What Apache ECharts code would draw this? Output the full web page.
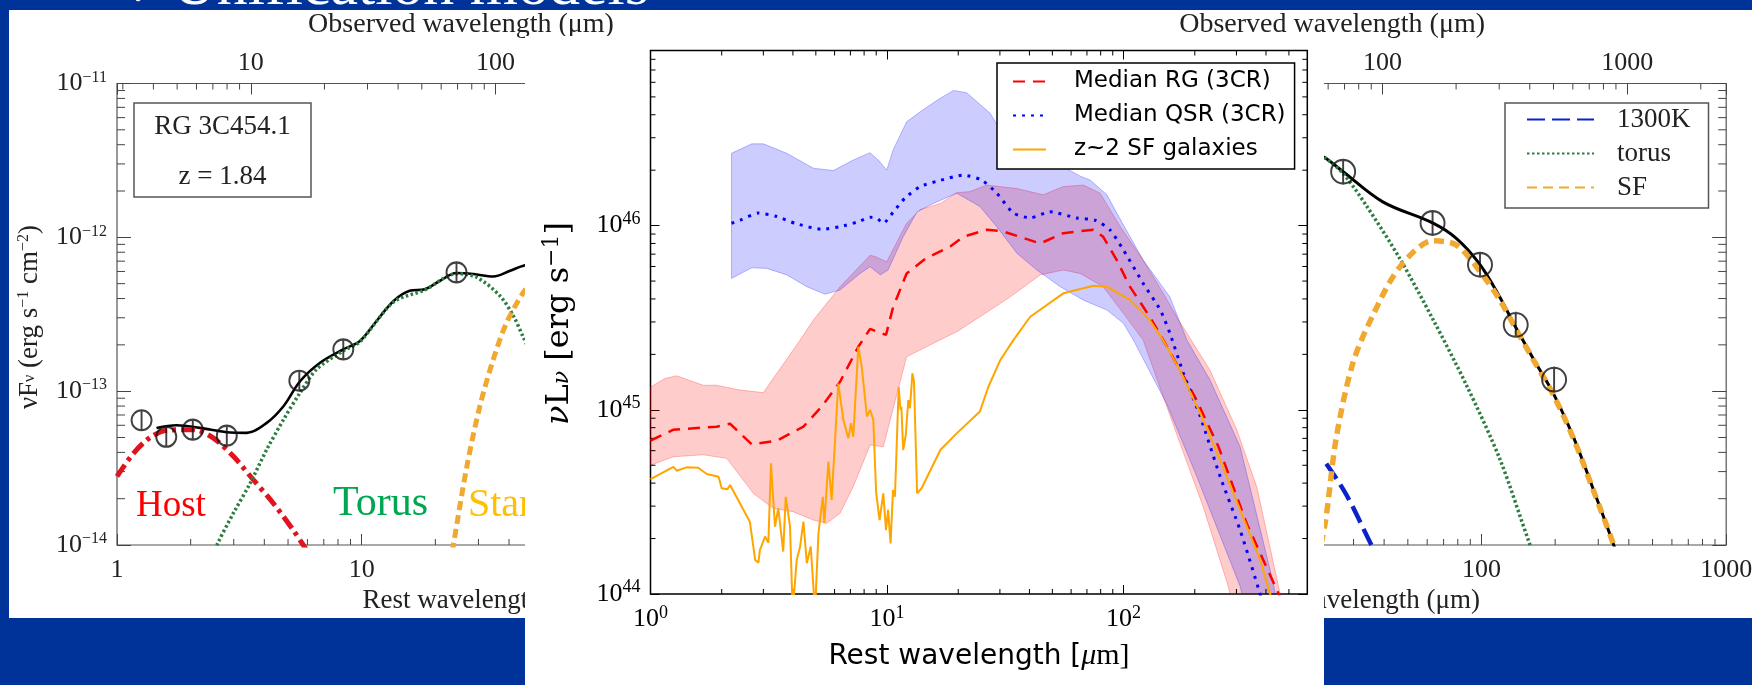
<!DOCTYPE html>
<html>
<head>
<meta charset="utf-8">
<script src="https://cdn.jsdelivr.net/npm/echarts@6.0.0/dist/echarts.min.js"></script>
<style>
  html, body { margin: 0; padding: 0; width: 1752px; height: 685px; overflow: hidden; background: #003399; }
  #title { position: absolute; left: 0; top: 0; width: 1752px; height: 10px; }
  #side { position: absolute; left: 9px; top: 10px; width: 1743px; height: 608px; }
  #main { position: absolute; left: 525px; top: 36px; width: 799px; height: 649px; }
</style>
</head>
<body>
<div id="title"></div>
<div id="side"></div>
<div id="main"></div>
<script>
// ---- middle panel: median SEDs (rest wavelength in micron, nuLnu in erg/s) ----
var rgLam  = [1.0, 1.25, 1.9, 2.17, 2.68, 3.42, 4.43, 5.29, 6.33, 7.56, 8.48, 9.9, 10.6, 12.1, 14.5, 16.2, 18.5, 21, 26.4, 31, 44.4, 55.6, 74.5, 82, 93.6, 106, 129, 147, 200, 252, 332, 490];
var rgMed  = [6.8e44, 7.8e44, 8.1e44, 8.4e44, 6.5e44, 6.8e44, 8.1e44, 1.04e45, 1.42e45, 2.2e45, 2.75e45, 2.55e45, 3.6e45, 5.5e45, 6.6e45, 7.1e45, 7.7e45, 8.7e45, 9.5e45, 9.3e45, 8.0e45, 9.1e45, 9.5e45, 8.7e45, 6.5e45, 4.7e45, 3.2e45, 2.4e45, 1.18e45, 6.3e44, 2.4e44, 8e43];
var rgUpLam = [1.0, 1.15, 1.29, 1.67, 1.9, 2.39, 3.0, 4.29, 4.88, 6.33, 8.48, 8.9, 9.97, 12.1, 13.8, 16.8, 19.7, 22.4, 26.4, 35.4, 45.8, 55.6, 67.6, 79.6, 96.7, 121, 147, 171, 232, 301, 366, 452, 520];
var rgUp    = [1.33e45, 1.48e45, 1.53e45, 1.36e45, 1.36e45, 1.28e45, 1.24e45, 2.39e45, 3.07e45, 4.66e45, 6.9e45, 6.8e45, 6.37e45, 1.03e46, 1.22e46, 1.32e46, 1.51e46, 1.53e46, 1.66e46, 1.59e46, 1.47e46, 1.63e46, 1.66e46, 1.5e46, 9.9e45, 6.5e45, 4.3e45, 3.07e45, 1.64e45, 7.8e44, 3.8e44, 1.1e44, 5e43];
var rgLoLam = [1.0, 1.25, 1.67, 2.1, 2.72, 3.3, 4.0, 4.88, 5.56, 6.33, 7.2, 8.48, 9.64, 12.1, 16.8, 20, 33, 44.4, 55.6, 65.5, 82, 99.8, 121, 150, 173, 217, 277, 330];
var rgLo    = [5.0e44, 5.56e44, 5.7e44, 5.45e44, 3.52e44, 2.92e44, 2.8e44, 2.52e44, 2.42e44, 2.74e44, 3.83e44, 6.44e44, 6.3e44, 1.94e45, 2.4e45, 2.68e45, 4.08e45, 5.4e45, 5.74e45, 5.5e45, 4.66e45, 3.34e45, 2.39e45, 1.1e45, 6.6e44, 2.98e44, 1.1e44, 4e43];

var qsrLam = [2.2, 2.39, 2.86, 3.42, 4.08, 5.29, 6.33, 7.56, 8.48, 9.04, 9.64, 10.6, 11.9, 13.8, 16.5, 21, 25.1, 29.1, 34.2, 40.3, 48.9, 63.4, 75.8, 87.7, 99.8, 121, 143, 157, 179, 211, 256, 311, 375, 420];
var qsrMed = [1.03e46, 1.07e46, 1.17e46, 1.12e46, 1.03e46, 9.55e45, 9.87e45, 1.05e46, 1.11e46, 1.1e46, 1.03e46, 1.18e46, 1.41e46, 1.63e46, 1.75e46, 1.88e46, 1.77e46, 1.5e46, 1.17e46, 1.1e46, 1.19e46, 1.1e46, 1.07e46, 9.47e45, 7.38e45, 4.86e45, 3.48e45, 2.6e45, 1.58e45, 9.2e44, 4.34e44, 2.22e44, 1.03e44, 6e43];
var qsrUpLam = [2.2, 2.68, 3.0, 3.77, 4.88, 5.93, 7.2, 8.48, 9.18, 9.97, 10.6, 12.1, 13.8, 16.5, 19.1, 21.7, 27.3, 30.1, 40, 55, 66, 72.2, 85, 93.6, 121, 157, 185, 232, 311, 430, 480];
var qsrUp    = [2.47e46, 2.78e46, 2.78e46, 2.47e46, 2.05e46, 1.99e46, 2.27e46, 2.49e46, 2.27e46, 2.0e46, 2.57e46, 3.66e46, 4.15e46, 4.85e46, 5.42e46, 5.27e46, 4.07e46, 3.31e46, 2.6e46, 2.1e46, 1.85e46, 1.77e46, 1.47e46, 1.17e46, 6.5e45, 4.1e45, 2.4e45, 1.45e45, 6.3e44, 1.14e44, 5e43];
var qsrLoLam = [2.2, 2.68, 3.1, 3.77, 4.58, 5.47, 6.33, 7.69, 8.48, 9.37, 10.1, 11.7, 13.4, 15.7, 19.7, 24.7, 29.1, 35.4, 43, 54, 67.6, 85, 99.8, 110, 152, 204, 311, 360];
var qsrLo    = [5.17e45, 5.9e45, 5.86e45, 5.4e45, 4.66e45, 4.24e45, 4.47e45, 5.5e45, 5.98e45, 5.4e45, 5.74e45, 8.7e45, 1.19e46, 1.32e46, 1.5e46, 1.27e46, 9.87e45, 7.08e45, 5.74e45, 4.66e45, 3.94e45, 3.48e45, 2.95e45, 2.39e45, 1.08e45, 4.34e44, 1.1e44, 5e43];

var sfLam = [1.0, 1.25, 1.29, 1.42, 1.59, 1.73, 1.94, 2.0, 2.11, 2.17, 2.63, 2.77, 2.86, 2.9, 3.05, 3.15, 3.23, 3.36, 3.47, 3.64, 3.73, 3.89, 3.99, 4.15, 4.29, 4.43, 4.58, 4.76, 4.96, 5.13, 5.35, 5.43, 5.65, 5.83, 6.22, 6.54, 6.86, 7.04, 7.2, 7.56, 7.82, 8.22, 8.48, 8.75, 8.88, 9.0, 9.3, 9.64, 9.9, 10.1, 10.35, 10.6, 10.8, 11.2, 11.4, 11.5, 11.7, 12.0, 12.3, 12.5, 12.8, 13.0, 13.4, 14.0, 16.8, 19.7, 24.7, 26.8, 30.1, 34.2, 40.3, 55.6, 74.5, 85, 106.5, 129, 147, 173, 211, 256, 311, 378, 414, 440];
var sfLum = [4.2e44, 4.9e44, 4.67e44, 4.87e44, 4.85e44, 4.48e44, 4.33e44, 3.75e44, 3.7e44, 3.91e44, 2.47e44, 1.53e44, 1.48e44, 1.73e44, 2.05e44, 1.9e44, 5.13e44, 2.32e44, 2.92e44, 1.7e44, 3.37e44, 2.32e44, 8e43, 1.53e44, 1.81e44, 2.47e44, 1.47e44, 1.81e44, 8e43, 2.14e44, 3.37e44, 2.42e44, 5.23e44, 3.24e44, 1.39e45, 8.8e44, 7.0e44, 8.45e44, 7.14e44, 2.2e45, 1.71e45, 9.2e44, 1.0e45, 8.8e44, 5.34e44, 3.52e44, 2.52e44, 3.52e44, 2.22e44, 2.86e44, 1.88e44, 3.67e44, 3.37e44, 1.33e45, 1.0e45, 1.04e45, 6.05e44, 7.3e44, 1.13e45, 1.02e45, 1.58e45, 1.42e45, 3.52e44, 3.75e44, 6.05e44, 7.45e44, 9.8e44, 1.33e45, 1.86e45, 2.39e45, 3.2e45, 4.29e45, 4.72e45, 4.66e45, 3.95e45, 3.07e45, 2.39e45, 1.64e45, 9.58e44, 5.34e44, 2.86e44, 1.53e44, 1.03e44, 8e43];

// ---- left panel: RG 3C454.1 (rest micron, nuFnu erg/s/cm2) ----
var lObsLam  = [1.26, 1.59, 2.04, 2.81, 5.56, 8.41, 24.4];
var lObsFlux = [6.47e-14, 5.05e-14, 5.62e-14, 5.14e-14, 1.17e-13, 1.87e-13, 5.92e-13];
var lModelLam  = [1.45, 1.75, 2.18, 2.81, 3.39, 4.09, 4.79, 5.6, 6.76, 8.41, 9.84, 11.5, 13.5, 15.7, 18.1, 20.9, 24.4, 28.6, 34.5, 40.4, 45.8, 60];
var lModelFlux = [5.77e-14, 6.0e-14, 5.77e-14, 5.41e-14, 5.36e-14, 6.22e-14, 7.98e-14, 1.16e-13, 1.53e-13, 1.87e-13, 2.12e-13, 2.86e-13, 3.86e-13, 4.49e-13, 4.6e-13, 5.22e-13, 5.86e-13, 5.77e-13, 5.57e-13, 6.07e-13, 6.53e-13, 7.2e-13];
var lHostLam  = [1.0, 1.17, 1.36, 1.6, 2.05, 2.47, 2.99, 3.61, 4.35, 5.25, 5.77, 6.5];
var lHostFlux = [2.79e-14, 3.96e-14, 4.97e-14, 5.57e-14, 5.62e-14, 4.97e-14, 3.77e-14, 2.65e-14, 1.87e-14, 1.25e-14, 1.0e-14, 7.5e-15];
var lTorusLam  = [2.4, 2.56, 2.99, 3.5, 4.09, 4.79, 5.6, 6.55, 8.41, 9.84, 13.5, 18.1, 24.4, 29.5, 36.7, 41.7, 45.8, 55];
var lTorusFlux = [7.5e-15, 1.0e-14, 1.61e-14, 2.52e-14, 4.17e-14, 6.53e-14, 9.77e-14, 1.39e-13, 1.83e-13, 2.1e-13, 3.8e-13, 4.55e-13, 5.8e-13, 5.5e-13, 4.17e-13, 3.08e-13, 2.23e-13, 1.2e-13];
var lSbLam  = [22.5, 23.7, 26.9, 30.4, 34.5, 39.1, 45.8, 55];
var lSbFlux = [6e-15, 1.0e-14, 3.24e-14, 7.98e-14, 1.61e-13, 2.79e-13, 4.39e-13, 6.5e-13];

// ---- right panel ----
var rObsLam  = [27.2, 63.1, 98.6, 138, 198];
var rObsFlux = [2.67e-12, 1.24e-12, 6.64e-13, 2.7e-13, 1.19e-13];
var rModelLam  = [20, 22.9, 27.2, 39.5, 63.1, 79.1, 98.6, 119, 138, 163, 197, 238, 287, 347, 400];
var rModelFlux = [3.6e-12, 3.29e-12, 2.67e-12, 1.7e-12, 1.24e-12, 9.8e-13, 6.64e-13, 4.06e-13, 2.6e-13, 1.62e-13, 9.6e-14, 4.99e-14, 2.28e-14, 1.0e-14, 5e-15];
var rSfLam  = [20, 22.9, 25.5, 29.8, 36, 46.3, 63.4, 79, 98.6, 119, 138, 163, 197, 238, 287, 347, 400];
var rSfFlux = [5e-15, 1.35e-14, 4.99e-14, 1.52e-13, 3.12e-13, 6.4e-13, 9.5e-13, 8.9e-13, 6.0e-13, 3.9e-13, 2.55e-13, 1.6e-13, 9.4e-14, 4.9e-14, 2.25e-14, 1.0e-14, 5e-15];
var rTorusLam  = [20, 22.9, 27.2, 33.9, 46.3, 63.4, 86.9, 119, 158, 180];
var rTorusFlux = [3.6e-12, 3.29e-12, 2.6e-12, 1.6e-12, 7.3e-13, 2.92e-13, 1.09e-13, 3.6e-14, 1.0e-14, 6e-15];
var r1300Lam  = [20, 22.9, 28, 35.5, 40];
var r1300Flux = [4.5e-14, 3.48e-14, 2.13e-14, 1.0e-14, 7e-15];

var MINOR = [2, 3, 4, 5, 6, 7, 8, 9];
var FLUX_UNIT = 1e-14;   // side panels plotted in units of 1e-14
var SERIF = 'Liberation Serif';
var SANS = 'DejaVu Sans';

function pts(xs, ys, unit) {
  return xs.map(function (x, i) { return [x, ys[i] / (unit || 1)]; });
}
function minorVals(decades, lo, hi) {
  var out = [];
  decades.forEach(function (d) {
    MINOR.forEach(function (m) { var v = m * d; if (v > lo * 1.0001 && v < hi * 0.9999) out.push(v); });
  });
  return out;
}
function powLabel(offset) {
  return function (v) {
    var e = Math.log10(v), n = Math.round(e);
    if (Math.abs(e - n) > 1e-6) return '';
    n += offset;
    return '10{s|' + (n < 0 ? '\u2212' + (-n) : n) + '}';
  };
}
function plainLabel(v) {
  var e = Math.log10(v), n = Math.round(e);
  if (Math.abs(e - n) > 1e-6) return '';
  return String(Math.round(v));
}
// dir: 0 bottom, 1 top, 2 left, 3 right
function tickSeries(xi, yi, items, lenX, lenY, color) {
  return {
    type: 'custom', xAxisIndex: xi, yAxisIndex: yi, silent: true, z: 3, clip: false,
    data: items,
    renderItem: function (params, api) {
      var p = api.coord([api.value(0), api.value(1)]);
      var d = api.value(2);
      var l = d < 2 ? lenX : lenY;
      var dx = [0, 0, 1, -1][d] * l, dy = [-1, 1, 0, 0][d] * l;
      return { type: 'line', shape: { x1: p[0], y1: p[1], x2: p[0] + dx, y2: p[1] + dy },
               style: { stroke: color, lineWidth: 1 } };
    }
  };
}
function logAxis(extra) {
  var a = { type: 'log', logBase: 10, splitLine: { show: false }, axisLine: { show: false } };
  for (var k in extra) a[k] = extra[k];
  return a;
}

// ================= title strip =================
var titleChart = echarts.init(document.getElementById('title'));
titleChart.setOption({
  animation: false,
  graphic: [
    { type: 'text', x: 128, y: -5, style: { text: '\u2713', fill: '#fff', fontSize: 40, fontFamily: SANS, align: 'left', verticalAlign: 'middle' } },
    { type: 'text', x: 172, y: -12, style: { text: 'Unification models', fill: '#fff', fontSize: 62, fontFamily: SERIF, align: 'left', verticalAlign: 'middle' } }
  ]
});

// ================= side panels =================
var sideChart = echarts.init(document.getElementById('side'));
var sideTick = { show: true, inside: true, length: 11, lineStyle: { color: '#444', width: 1 } };
var sideTickY = { show: true, inside: true, length: 14, lineStyle: { color: '#444', width: 1 } };
var sideLbl = { color: '#222', fontFamily: SERIF, fontSize: 26, formatter: plainLabel, showMinLabel: true, showMaxLabel: true };

var lTicks = [];
minorVals([1, 10], 1, 100).forEach(function (v) { lTicks.push([v, 1, 0]); });
minorVals([1, 10, 100], 1, 1000).forEach(function (v) { lTicks.push([1, v, 2]); });
var lTopTicks = minorVals([1, 10, 100], 2.84, 284).map(function (v) { return [v, 1000, 1]; });
var rTicks = [];
minorVals([10, 100], 10, 1000).forEach(function (v) { rTicks.push([v, 1, 0]); });
minorVals([1, 10, 100], 1, 1000).forEach(function (v) { rTicks.push([1000, v, 3]); });
var rTopTicks = minorVals([10, 100, 1000], 25.4, 2540).map(function (v) { return [v, 1000, 1]; });

var phi = 'path://M0,-11L0,11M10,0A10,10,0,1,1,-10,0A10,10,0,1,1,10,0';

sideChart.setOption({
  animation: false,
  backgroundColor: '#fff',
  grid: [
    { left: 108, top: 73.5, width: 489.4, height: 461.5, show: true, borderColor: '#555', borderWidth: 1.2, outerBoundsMode: 'none' },
    { left: 1227.8, top: 73.5, width: 489.4, height: 461.5, show: true, borderColor: '#555', borderWidth: 1.2, outerBoundsMode: 'none' }
  ],
  xAxis: [
    logAxis({ gridIndex: 0, position: 'bottom', min: 1, max: 100, axisTick: sideTick, axisLabel: Object.assign({ margin: 12 }, sideLbl) }),
    logAxis({ gridIndex: 0, position: 'top', min: 2.84, max: 284, axisTick: sideTick, axisLabel: Object.assign({ margin: 7 }, sideLbl) }),
    logAxis({ gridIndex: 1, position: 'bottom', min: 10, max: 1000, axisTick: sideTick, axisLabel: Object.assign({ margin: 12 }, sideLbl) }),
    logAxis({ gridIndex: 1, position: 'top', min: 25.4, max: 2540, axisTick: sideTick, axisLabel: Object.assign({ margin: 7 }, sideLbl) })
  ],
  yAxis: [
    logAxis({ gridIndex: 0, position: 'left', min: 1, max: 1000, axisTick: sideTickY,
      axisLabel: { color: '#222', fontFamily: SERIF, fontSize: 26, margin: 10, showMinLabel: true, showMaxLabel: true,
        formatter: powLabel(-14), rich: { s: { fontFamily: SERIF, fontSize: 16, color: '#222', padding: [0, 0, 12, 0] } } } }),
    logAxis({ gridIndex: 1, position: 'right', min: 1, max: 1000, axisTick: sideTickY, axisLabel: { show: false } })
  ],
  legend: {
    orient: 'vertical', left: 1496, top: 93, itemWidth: 67, itemHeight: 23, itemGap: 7,
    padding: [3, 18, 7, 21], borderColor: '#555', borderWidth: 1.5, backgroundColor: '#fff', borderRadius: 0,
    selectedMode: false,
    itemStyle: { opacity: 0, borderWidth: 0 },
    textStyle: { fontFamily: SERIF, fontSize: 27, color: '#222', padding: [0, 0, 0, 18] },
    data: ['1300K', 'torus', 'SF']
  },
  series: [
    { name: 'model', type: 'line', xAxisIndex: 0, yAxisIndex: 0, smooth: 0.35, symbol: 'none', data: pts(lModelLam, lModelFlux, FLUX_UNIT), lineStyle: { color: '#000', width: 2.6 } },
    { name: 'Host', type: 'line', xAxisIndex: 0, yAxisIndex: 0, smooth: 0.3, symbol: 'none', data: pts(lHostLam, lHostFlux, FLUX_UNIT), lineStyle: { color: '#e0141e', width: 5, type: [14, 5, 4, 5] } },
    { name: 'Torus', type: 'line', xAxisIndex: 0, yAxisIndex: 0, smooth: 0.3, symbol: 'none', data: pts(lTorusLam, lTorusFlux, FLUX_UNIT), lineStyle: { color: '#2e7d40', width: 3.5, type: [2.5, 2.5] } },
    { name: 'Starburst', type: 'line', xAxisIndex: 0, yAxisIndex: 0, smooth: 0.3, symbol: 'none', data: pts(lSbLam, lSbFlux, FLUX_UNIT), lineStyle: { color: '#f0a830', width: 5, type: [9, 5] } },
    { name: 'dataL', type: 'scatter', xAxisIndex: 0, yAxisIndex: 0, symbol: phi, symbolSize: [20, 22], data: pts(lObsLam, lObsFlux, FLUX_UNIT),
      itemStyle: { color: 'rgba(0,0,0,0)', borderColor: '#111', borderWidth: 2 }, z: 5 },
    tickSeries(0, 0, lTicks, 6, 8, '#444'),
    tickSeries(1, 0, lTopTicks, 6, 8, '#444'),

    { name: 'modelR', type: 'line', xAxisIndex: 2, yAxisIndex: 1, smooth: 0.35, symbol: 'none', data: pts(rModelLam, rModelFlux, FLUX_UNIT), lineStyle: { color: '#000', width: 3 } },
    { name: 'torus', type: 'line', xAxisIndex: 2, yAxisIndex: 1, smooth: 0.3, symbol: 'none', data: pts(rTorusLam, rTorusFlux, FLUX_UNIT), lineStyle: { color: '#2e7d40', width: 3.5, type: [2.5, 2.5] } },
    { name: '1300K', type: 'line', xAxisIndex: 2, yAxisIndex: 1, smooth: 0.3, symbol: 'none', data: pts(r1300Lam, r1300Flux, FLUX_UNIT), lineStyle: { color: '#0a22cc', width: 4.5, type: [18, 7] } },
    { name: 'SF', type: 'line', xAxisIndex: 2, yAxisIndex: 1, smooth: 0.3, symbol: 'none', data: pts(rSfLam, rSfFlux, FLUX_UNIT), lineStyle: { color: '#f0a830', width: 5.5, type: [10, 6] } },
    { name: 'dataR', type: 'scatter', xAxisIndex: 2, yAxisIndex: 1, symbol: phi, symbolSize: [24, 26], data: pts(rObsLam, rObsFlux, FLUX_UNIT),
      itemStyle: { color: 'rgba(0,0,0,0)', borderColor: '#111', borderWidth: 2 }, z: 5 },
    tickSeries(2, 1, rTicks, 6, 8, '#444'),
    tickSeries(3, 1, rTopTicks, 6, 8, '#444')
  ],
  graphic: [
    { type: 'text', x: 452, y: 15, style: { text: 'Observed wavelength (\u03bcm)', fill: '#222', fontSize: 28, fontFamily: SERIF, align: 'center', verticalAlign: 'middle' } },
    { type: 'text', x: 1476, y: 15, style: { text: 'Observed wavelength (\u03bcm)', fill: '#222', fontSize: 28, fontFamily: SERIF, align: 'right', verticalAlign: 'middle' } },
    { type: 'text', x: 353.5, y: 591, style: { text: 'Rest wavelength (\u03bcm)', fill: '#222', fontSize: 27, fontFamily: SERIF, align: 'left', verticalAlign: 'middle' } },
    { type: 'text', x: 1471, y: 591, style: { text: 'Rest wavelength (\u03bcm)', fill: '#222', fontSize: 27, fontFamily: SERIF, align: 'right', verticalAlign: 'middle' } },
    { type: 'text', x: 21, y: 307, rotation: Math.PI / 2,
      style: { text: '\u03bdF{sub|\u03bd} (erg s{sup|\u22121} cm{sup|\u22122})', fill: '#222', fontSize: 27, fontFamily: SERIF, align: 'center', verticalAlign: 'middle',
        rich: { sub: { fontSize: 16, fontFamily: SERIF, fill: '#222' }, sup: { fontSize: 16, fontFamily: SERIF, fill: '#222', padding: [0, 0, 12, 0] } } } },
    { type: 'rect', shape: { x: 125, y: 93, width: 177, height: 94 }, style: { fill: 'none', stroke: '#555', lineWidth: 1.5 } },
    { type: 'text', x: 213.5, y: 117, style: { text: 'RG 3C454.1', fill: '#222', fontSize: 27, fontFamily: SERIF, align: 'center', verticalAlign: 'middle' } },
    { type: 'text', x: 213.5, y: 167, style: { text: 'z = 1.84', fill: '#222', fontSize: 27, fontFamily: SERIF, align: 'center', verticalAlign: 'middle' } },
    { type: 'text', x: 127, y: 496, style: { text: 'Host', fill: '#ff0000', fontSize: 37, fontFamily: SERIF, align: 'left', verticalAlign: 'middle' } },
    { type: 'text', x: 324, y: 494, style: { text: 'Torus', fill: '#00a651', fontSize: 42, fontFamily: SERIF, align: 'left', verticalAlign: 'middle' } },
    { type: 'text', x: 459, y: 495, style: { text: 'Starburst', fill: '#ffc000', fontSize: 40, fontFamily: SERIF, align: 'left', verticalAlign: 'middle' } }
  ]
});

// ================= middle panel =================
var mainChart = echarts.init(document.getElementById('main'));
var X_MAX = 598, Y_MIN = 1e44, Y_MAX = 8.93e46;
var mTicks = [];
minorVals([1, 10, 100], 1, X_MAX).forEach(function (v) { mTicks.push([v, Y_MIN, 0]); mTicks.push([v, Y_MAX, 1]); });
minorVals([1e44, 1e45, 1e46], Y_MIN, Y_MAX).forEach(function (v) { mTicks.push([1, v, 2]); mTicks.push([X_MAX, v, 3]); });

function bandSeries(name, upLam, up, loLam, lo, fill, stroke) {
  return {
    name: name, type: 'custom', xAxisIndex: 0, yAxisIndex: 0, silent: true, z: 1, clip: true,
    data: [[upLam[0], up[0]]],
    renderItem: function (params, api) {
      var p = [];
      for (var i = 0; i < upLam.length; i++) p.push(api.coord([upLam[i], up[i]]));
      for (var j = loLam.length - 1; j >= 0; j--) p.push(api.coord([loLam[j], lo[j]]));
      return { type: 'polygon', shape: { points: p }, style: { fill: fill, stroke: stroke, lineWidth: 1 } };
    }
  };
}
var mTick = { show: true, inside: true, length: 9, lineStyle: { color: '#000', width: 1 } };
var mLbl = { color: '#000', fontFamily: SERIF, fontSize: 26, margin: 10, showMinLabel: true, showMaxLabel: true,
  formatter: powLabel(0), rich: { s: { fontFamily: SERIF, fontSize: 18, color: '#000', padding: [0, 0, 13, 0] } } };

mainChart.setOption({
  animation: false,
  backgroundColor: '#fff',
  grid: { left: 125.5, top: 14.5, width: 656.8, height: 543.5, show: true, borderColor: '#000', borderWidth: 1.5, outerBoundsMode: 'none' },
  xAxis: [
    logAxis({ position: 'bottom', min: 1, max: X_MAX, axisTick: mTick, axisLabel: mLbl }),
    logAxis({ position: 'top', min: 1, max: X_MAX, axisTick: mTick, axisLabel: { show: false } })
  ],
  yAxis: [
    logAxis({ position: 'left', min: Y_MIN, max: Y_MAX, axisTick: mTick, axisLabel: mLbl }),
    logAxis({ position: 'right', min: Y_MIN, max: Y_MAX, axisTick: mTick, axisLabel: { show: false } })
  ],
  legend: {
    orient: 'vertical', left: 472, top: 27, itemWidth: 33, itemHeight: 23, itemGap: 11,
    padding: [7, 9, 8, 15], borderColor: '#000', borderWidth: 1.5, backgroundColor: '#fff', borderRadius: 0,
    selectedMode: false,
    itemStyle: { opacity: 0, borderWidth: 0 },
    textStyle: { fontFamily: SANS, fontSize: 23, color: '#000', padding: [0, 0, 0, 23] },
    data: ['Median RG (3CR)', 'Median QSR (3CR)', 'z~2 SF galaxies']
  },
  series: [
    bandSeries('rgBand', rgUpLam, rgUp, rgLoLam, rgLo, 'rgba(255,0,0,0.2)', 'rgba(255,0,0,0.25)'),
    bandSeries('qsrBand', qsrUpLam, qsrUp, qsrLoLam, qsrLo, 'rgba(0,0,255,0.2)', 'rgba(0,0,255,0.25)'),
    { name: 'Median RG (3CR)', type: 'line', symbol: 'none', data: pts(rgLam, rgMed), z: 3,
      lineStyle: { color: '#ff0000', width: 2.5, type: [12, 8] } },
    { name: 'Median QSR (3CR)', type: 'line', symbol: 'none', data: pts(qsrLam, qsrMed), z: 3, smooth: 0.2,
      lineStyle: { color: '#0000ff', width: 3, type: [3, 6] } },
    { name: 'z~2 SF galaxies', type: 'line', symbol: 'none', data: pts(sfLam, sfLum), z: 3,
      lineStyle: { color: '#ffa500', width: 2 } },
    tickSeries(0, 0, mTicks, 5, 5, '#000')
  ],
  graphic: [
    { type: 'text', x: 37, y: 287.5, rotation: Math.PI / 2,
      style: { text: '{i|\u03bd}{m|L}{sub|\u03bd}{m| [erg s}{sup|\u22121}{m|]}', fill: '#000', align: 'center', verticalAlign: 'middle',
        rich: {
          m: { fontFamily: 'DejaVu Serif', fontSize: 32, fill: '#000', padding: [0, 0, 5, 0] },
          i: { fontFamily: 'DejaVu Serif', fontSize: 32, fontStyle: 'italic', fill: '#000', padding: [0, 0, 5, 0] },
          sub: { fontFamily: 'DejaVu Serif', fontSize: 22, fontStyle: 'italic', fill: '#000' },
          sup: { fontFamily: 'DejaVu Serif', fontSize: 22, fill: '#000', padding: [0, 0, 20, 0] }
        } } },
    { type: 'text', x: 454, y: 620.6,
      style: { text: '{a|Rest wavelength [}{b|\u03bc}{c|m]}', fill: '#000', align: 'center', verticalAlign: 'middle',
        rich: {
          a: { fontFamily: SANS, fontSize: 28, fill: '#000' },
          b: { fontFamily: SERIF, fontSize: 30, fontStyle: 'italic', fill: '#000' },
          c: { fontFamily: SERIF, fontSize: 30, fill: '#000' }
        } } }
  ]
});
</script>
</body>
</html>
